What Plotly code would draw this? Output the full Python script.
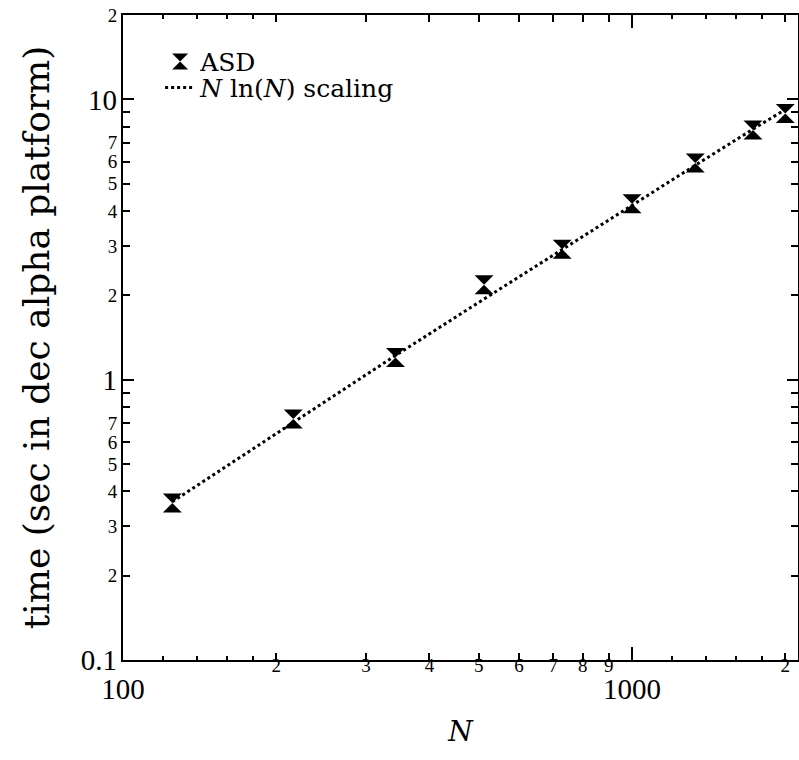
import plotly.graph_objects as go

# data
n_values = [125, 216, 343, 512, 729, 1000, 1331, 1728, 2000]
asd_time = [0.363, 0.724, 1.20, 2.18, 2.92, 4.24, 5.93, 7.78, 8.9]
fit_time = [0.367, 0.706, 1.22, 1.94, 2.92, 4.20, 5.82, 7.83, 9.2]

x_small_vals = [200, 300, 400, 500, 600, 700, 800, 900, 2000]
x_small_text = ["2", "3", "4", "5", "6", "7", "8", "9", "2"]
x_minor_vals = [120, 140, 160, 180, 1200, 1400, 1600, 1800]
x_major_vals = [100, 1000]
x_major_text = ["100", "1000"]

y_small_vals = [0.2, 0.3, 0.4, 0.5, 0.6, 0.7, 0.8, 0.9,
                2, 3, 4, 5, 6, 7, 8, 9, 20]
y_small_text = ["2", "3", "4", "5", "6", "7", "", "",
                "2", "3", "4", "5", "6", "7", "", "", "2"]
y_major_vals = [0.1, 1, 10]
y_major_text = ["0.1", "1", "10"]

NUMFONT = "'Liberation Serif', 'Times New Roman', Times, serif"
TXTFONT = "'DejaVu Serif', 'Liberation Serif', serif"
XR = [2, 3.326]
YR = [-1, 1.30104]

fig = go.Figure()
fig.add_trace(go.Scatter(
    x=n_values, y=fit_time, mode="lines", name="<i>N</i> ln(<i>N</i>) scaling",
    line=dict(color="black", width=3, dash="dot"), legend="legend2"))
fig.add_trace(go.Scatter(
    x=n_values, y=asd_time, mode="markers", name="ASD",
    marker=dict(symbol="hourglass", size=19, color="black"), legend="legend"))
fig.add_trace(go.Scatter(x=[], y=[], xaxis="x2", yaxis="y2", showlegend=False))

legend_common = dict(xanchor="left", yanchor="top",
                     font=dict(family=TXTFONT, size=25, color="black"),
                     bgcolor="rgba(0,0,0,0)")

fig.update_layout(
    width=799, height=760,
    margin=dict(l=123, r=1, t=15, b=100, autoexpand=False),
    paper_bgcolor="white", plot_bgcolor="white",
    font=dict(family=NUMFONT, color="black"),
    showlegend=True,
    legend=dict(x=0.055, y=0.963, **legend_common),
    legend2=dict(x=0.055, y=0.923, **legend_common),
    xaxis=dict(type="log", range=XR, tickmode="array", automargin=False,
               tickvals=x_small_vals, ticktext=x_small_text,
               ticks="inside", ticklen=7, tickwidth=2, tickcolor="black",
               showline=True, linewidth=2, linecolor="black", mirror="ticks",
               showgrid=False, zeroline=False, ticklabelstandoff=-13,
               ticklabeloverflow="allow",
               tickfont=dict(family=NUMFONT, size=19),
               minor=dict(tickmode="array", tickvals=x_minor_vals, ticks="inside",
                          ticklen=4, tickwidth=1.5, tickcolor="black", showgrid=False)),
    xaxis2=dict(type="log", range=XR, overlaying="x", anchor="y", side="bottom",
                automargin=False,
                tickmode="array", tickvals=x_major_vals, ticktext=x_major_text,
                ticks="inside", ticklen=13, tickwidth=2, tickcolor="black",
                showline=False, mirror="ticks", showgrid=False, zeroline=False,
                ticklabelstandoff=9,
                tickfont=dict(family=NUMFONT, size=29),
                title=dict(text="<i>N</i>", font=dict(family=TXTFONT, size=28), standoff=17)),
    yaxis=dict(type="log", range=YR, tickmode="array", automargin=False,
               tickvals=y_small_vals, ticktext=y_small_text,
               ticks="inside", ticklen=7, tickwidth=2, tickcolor="black",
               showline=True, linewidth=2, linecolor="black", mirror="ticks",
               showgrid=False, zeroline=False, ticklabeloverflow="allow",
               tickfont=dict(family=NUMFONT, size=19)),
    yaxis2=dict(type="log", range=YR, overlaying="y", anchor="x", side="left",
                automargin=False,
                tickmode="array", tickvals=y_major_vals, ticktext=y_major_text,
                ticks="inside", ticklen=11, tickwidth=2, tickcolor="black",
                showline=False, mirror="ticks", showgrid=False, zeroline=False,
                ticklabelstandoff=5, ticklabeloverflow="allow",
                tickfont=dict(family=NUMFONT, size=29),
                title=dict(text="time (sec in dec alpha platform)",
                           font=dict(family=TXTFONT, size=36), standoff=20)),
)

fig.write_html("out.html", config={"displayModeBar": False},
               post_script="document.body.style.margin='0px';")
